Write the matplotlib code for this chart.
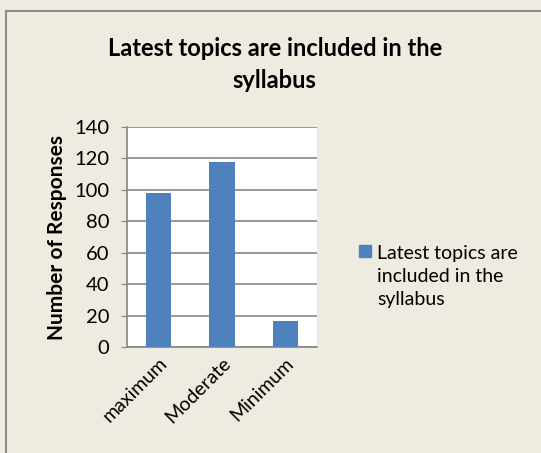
import matplotlib.pyplot as plt
from matplotlib.lines import Line2D

# chart values
categories = ["maximum", "Moderate", "Minimum"]
responses = [98, 118, 17]
series_name = "Latest topics are\nincluded in the\nsyllabus"

plt.rcParams['font.family'] = ['Lato', 'DejaVu Sans']

bg = "#eeebe0"
bar_color = "#4f81bd"
grid_gray = "#868686"

fig = plt.figure(figsize=(5.41, 4.53), dpi=100, facecolor=bg)
ax = fig.add_axes([0.234, 0.233, 0.352, 0.487])
ax.set_facecolor("white")

ax.bar(categories, responses, width=0.4, color=bar_color, zorder=3)
ax.set_ylim(0, 140)
ax.set_yticks(range(0, 141, 20))
ax.set_xlim(-0.5, 2.5)
ax.grid(axis="y", color=grid_gray, linewidth=1.2, zorder=0)

for s in ["top", "right"]:
    ax.spines[s].set_visible(False)
for s in ["left", "bottom"]:
    ax.spines[s].set_color(grid_gray)
    ax.spines[s].set_linewidth(1.2)

ax.tick_params(axis="y", length=4.5, color=grid_gray, labelsize=14.5, pad=8)
ax.tick_params(axis="x", length=0, labelsize=14, pad=5)
plt.setp(ax.get_xticklabels(), rotation=45, ha="right", rotation_mode="anchor")

ax.set_ylabel("Number of Responses", fontsize=15, fontweight="bold", labelpad=5)

fig.text(0.508, 0.858, "Latest topics are included in the\nsyllabus",
         ha="center", va="center", fontsize=17, fontweight="bold",
         linespacing=1.5)

leg = fig.legend(handles=[plt.Rectangle((0, 0), 1, 1, color=bar_color)],
                 labels=[series_name], loc="center left",
                 bbox_to_anchor=(0.632, 0.39), frameon=False,
                 fontsize=14, handlelength=0.6, handleheight=0.6,
                 handletextpad=0.3)
for t in leg.get_texts():
    t.set_linespacing(1.42)
# put the square next to the first line, like the original
h = leg.legend_handles[0]
h.set_y(h.get_y() + 18.5)

# outer frame (top and left edge only visible)
fig.add_artist(Line2D([0.012, 0.012], [0.0, 0.976], color="#8c8c8c", lw=1.5))
fig.add_artist(Line2D([0.012, 1.0], [0.976, 0.976], color="#8c8c8c", lw=1.5))

fig.savefig("out.png", dpi=100, facecolor=bg)
